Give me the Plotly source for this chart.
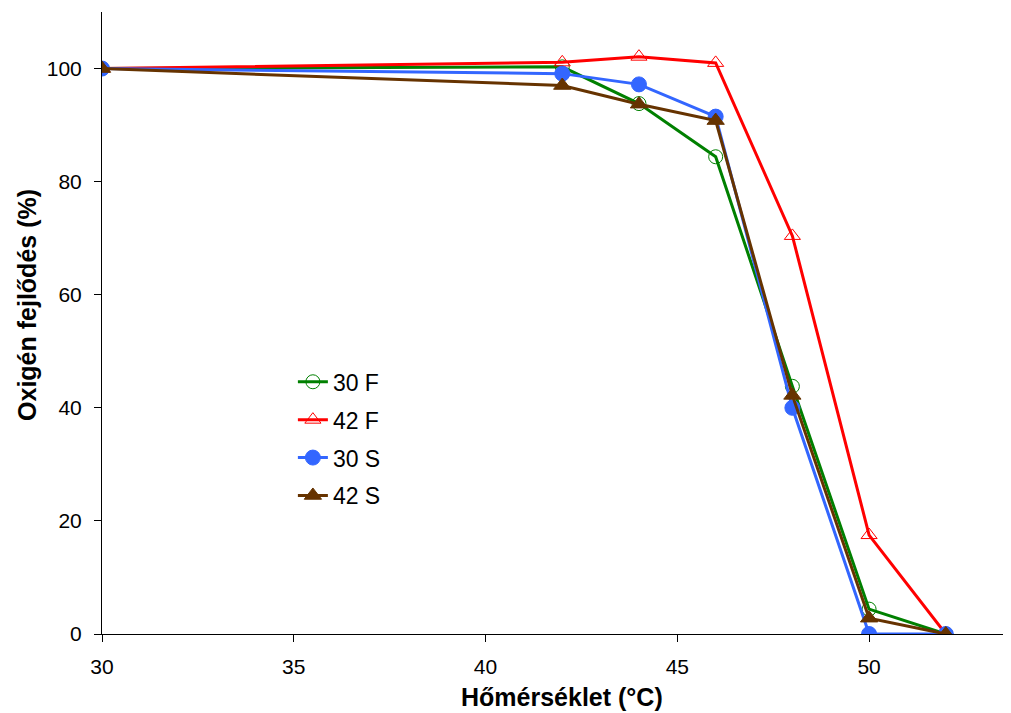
import plotly.graph_objects as go

temps = [30, 42, 44, 46, 48, 50, 52]
f30 = [100, 100.3, 93.8, 84.4, 43.8, 4.4, 0]
f42 = [100, 101.1, 102.1, 101.0, 70.4, 17.5, 0]
s30 = [100, 99.1, 97.2, 91.5, 40.0, 0, 0]
s42 = [100, 97.0, 93.7, 90.8, 42.2, 2.8, 0]

series = [
    ("30 F", f30, "#008000", "circle-open"),
    ("42 F", f42, "#FF0000", "triangle-up-open"),
    ("30 S", s30, "#3366FF", "circle"),
    ("42 S", s42, "#663300", "triangle-up"),
]

fig = go.Figure()
for name, ys, col, sym in series:
    fig.add_trace(go.Scatter(
        x=temps, y=ys, name=name, mode="lines+markers",
        line=dict(color=col, width=3),
        marker=dict(symbol=sym, size=14 if "open" in sym else 15, color=col,
                    line=dict(color=col, width=1)),
        legendgroup=name,
    ))

fig.update_layout(
    width=1003, height=705,
    margin=dict(l=94, r=0, t=4, b=79),
    plot_bgcolor="white", paper_bgcolor="white",
    font=dict(family="Liberation Sans, Arial, sans-serif", color="black"),
    legend=dict(x=0.21, y=0.44, xanchor="left", yanchor="top",
                font=dict(size=23), tracegroupgap=5,
                bgcolor="rgba(0,0,0,0)"),
    xaxis=dict(range=[30, 53.7], tickvals=[30, 35, 40, 45, 50],
               showline=True, linecolor="black", linewidth=1,
               ticks="outside", ticklen=7, tickcolor="black",
               showgrid=False, zeroline=False, tickfont=dict(size=21),
               ticklabelstandoff=7, automargin=False),
    yaxis=dict(range=[0, 110], tickvals=[0, 20, 40, 60, 80, 100],
               showline=True, linecolor="black", linewidth=1,
               ticks="outside", ticklen=7, tickcolor="black",
               showgrid=False, zeroline=False, tickfont=dict(size=21),
               ticklabelstandoff=8, automargin=False),
    annotations=[
        dict(text="<b>Hőmérséklet (°C)</b>", xref="paper", yref="paper",
             x=0.506, y=0, yanchor="middle", xanchor="center", yshift=-63,
             showarrow=False, font=dict(size=25)),
        dict(text="<b>Oxigén fejlődés (%)</b>", xref="paper", yref="paper",
             x=0, xshift=-75, y=0.529, textangle=-90, xanchor="center", yanchor="middle",
             showarrow=False, font=dict(size=25)),
    ],
)

fig.write_html("out.html")
